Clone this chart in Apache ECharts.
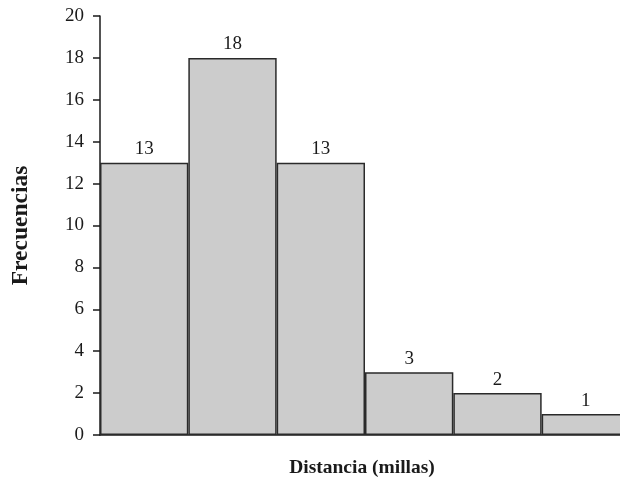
<!DOCTYPE html>
<html><head><meta charset="utf-8">
<script src="https://cdn.jsdelivr.net/npm/echarts@6/dist/echarts.min.js"></script>
<style>html,body{margin:0;padding:0;background:#fff}#c{width:620px;height:485px}</style>
</head><body><div id="c"></div>
<script>
const categories = ['0-10', '10-20', '20-30', '30-40', '40-50', '50-60'];
const frequencies = [13, 18, 13, 3, 2, 1];
const yTicks = [0, 2, 4, 6, 8, 10, 12, 14, 16, 18, 20];
const xTitle = 'Distancia (millas)';
const yTitle = 'Frecuencias';

const serif = '"Liberation Serif", "DejaVu Serif", serif';
const chart = echarts.init(document.getElementById('c'), null, {renderer: 'canvas'});
chart.setOption({
  animation: false,
  backgroundColor: '#fff',
  grid: {left: 100, top: 16, width: 530, height: 419, containLabel: false, outerBoundsMode: 'none'},
  xAxis: {
    type: 'category', data: categories,
    axisLine: {show: true, lineStyle: {color: '#1a1a1a', width: 1.5}},
    axisTick: {show: false}, axisLabel: {show: false},
    name: xTitle, nameLocation: 'middle', nameGap: 23,
    nameTextStyle: {fontFamily: serif, fontWeight: 'bold', fontSize: 19.5, color: '#1a1a1a', padding: [0, 0, 0, -6]}
  },
  yAxis: {
    type: 'value', min: yTicks[0], max: yTicks[yTicks.length - 1], interval: 2,
    axisLine: {show: true, lineStyle: {color: '#1a1a1a', width: 1.5}},
    axisTick: {show: true, length: 7, lineStyle: {color: '#1a1a1a', width: 1.5}},
    splitLine: {show: false},
    axisLabel: {fontFamily: serif, fontSize: 19, color: '#1a1a1a', margin: 16},
    name: yTitle, nameLocation: 'middle', nameGap: 67, nameRotate: 90,
    nameTextStyle: {fontFamily: serif, fontWeight: 'bold', fontSize: 23.5, color: '#1a1a1a'}
  },
  series: [{
    type: 'bar', data: frequencies, barCategoryGap: 0,
    itemStyle: {color: '#cccccc', borderColor: '#2a2a2a', borderWidth: 1.5},
    label: {show: true, position: 'top', distance: 4, fontFamily: serif, fontSize: 19, color: '#1a1a1a'}
  }]
});
</script></body></html>
